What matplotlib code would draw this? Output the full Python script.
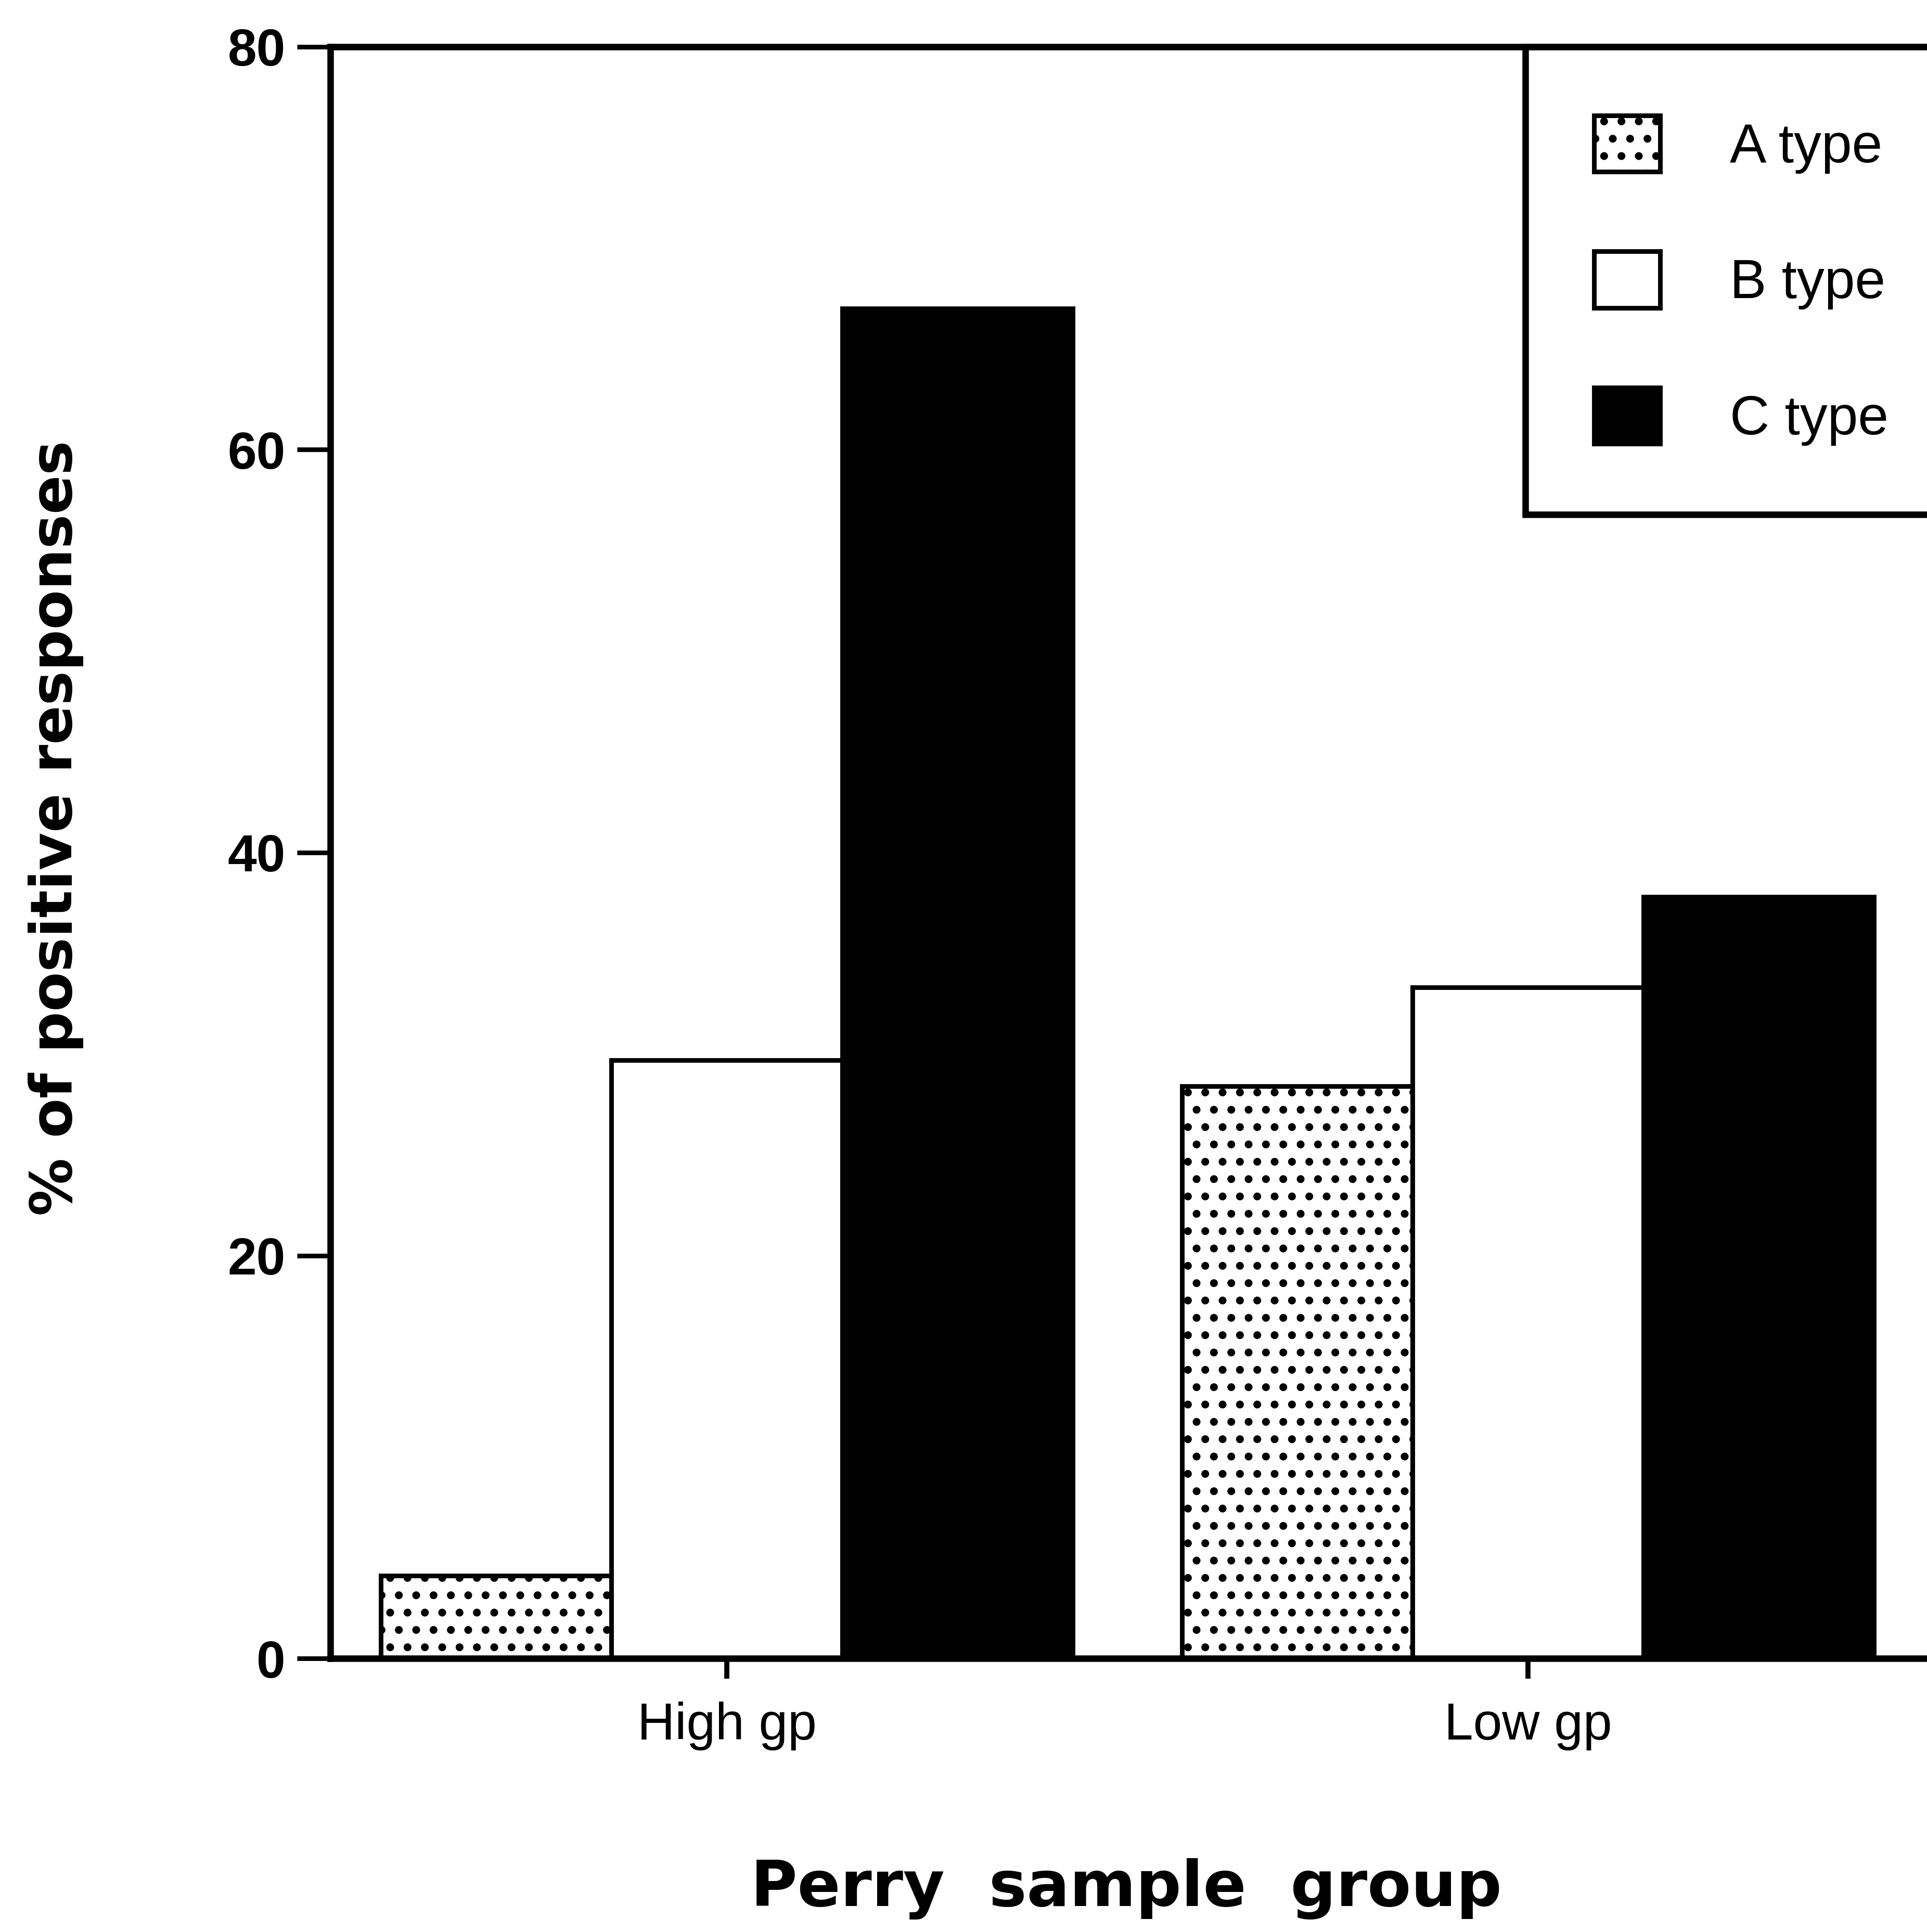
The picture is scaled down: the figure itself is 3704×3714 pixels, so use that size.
import numpy as np
import matplotlib
matplotlib.use("Agg")
import matplotlib.pyplot as plt
from matplotlib.patches import Patch

# data
groups = ["High gp", "Low gp"]
a_type = [4.1, 28.4]
b_type = [29.7, 33.3]
c_type = [67.0, 37.8]
series_names = ["A type", "B type", "C type"]
y_ticks = [0, 20, 40, 60, 80]

plt.rcParams['font.family'] = ['Liberation Sans', 'DejaVu Sans']
plt.rcParams['hatch.linewidth'] = 3.0
plt.rcParams['hatch.color'] = 'black'

fig = plt.figure(figsize=(18.52, 18.57), dpi=200)
ax = fig.add_axes([0.1714, 0.1416, 0.8286, 0.8342])

x = np.arange(len(groups))
w = 0.288
edge_lw = 3.2

ax.bar(x - w, a_type, w, facecolor='white', edgecolor='black', hatch='.', linewidth=edge_lw)
ax.bar(x, b_type, w, facecolor='white', edgecolor='black', linewidth=edge_lw)
ax.bar(x + w, c_type, w, facecolor='black', edgecolor='black', linewidth=edge_lw)

ax.set_xlim(-0.495, 1.498)
ax.set_ylim(0, 80)
ax.set_yticks(y_ticks)
ax.set_yticklabels([str(v) for v in y_ticks], fontsize=36, fontweight='bold')
ax.set_xticks(x)
ax.set_xticklabels(groups, fontsize=36)

ax.tick_params(axis='y', direction='out', length=23, width=3.2, pad=8)
ax.tick_params(axis='x', direction='out', length=14, width=3.5, pad=16)

for side in ['left', 'top', 'bottom']:
    ax.spines[side].set_linewidth(4.5)
ax.spines['right'].set_visible(False)

# legend
handles = [
    Patch(facecolor='white', edgecolor='black', hatch='.', linewidth=3.2),
    Patch(facecolor='white', edgecolor='black', linewidth=3.2),
    Patch(facecolor='black', edgecolor='black', linewidth=3.2),
]
leg = ax.legend(handles, series_names, loc='upper left', bbox_to_anchor=(0.7485, 1.0),
                borderaxespad=0, fontsize=38, handlelength=1.2, handleheight=1.2,
                handletextpad=1.27, labelspacing=1.42, borderpad=1.25,
                fancybox=False, framealpha=1, edgecolor='black')
leg.get_frame().set_linewidth(4.5)

fig.text(0.029, 0.5714, "% of positive responses", rotation=90, ha='center', va='center',
         fontsize=40, fontweight='bold', family='DejaVu Sans')
fig.text(0.5844, 0.0134, "Perry  sample  group", ha='center', va='baseline',
         fontsize=44, fontweight='bold', family='DejaVu Sans')

fig.savefig("out.png", dpi=200)
